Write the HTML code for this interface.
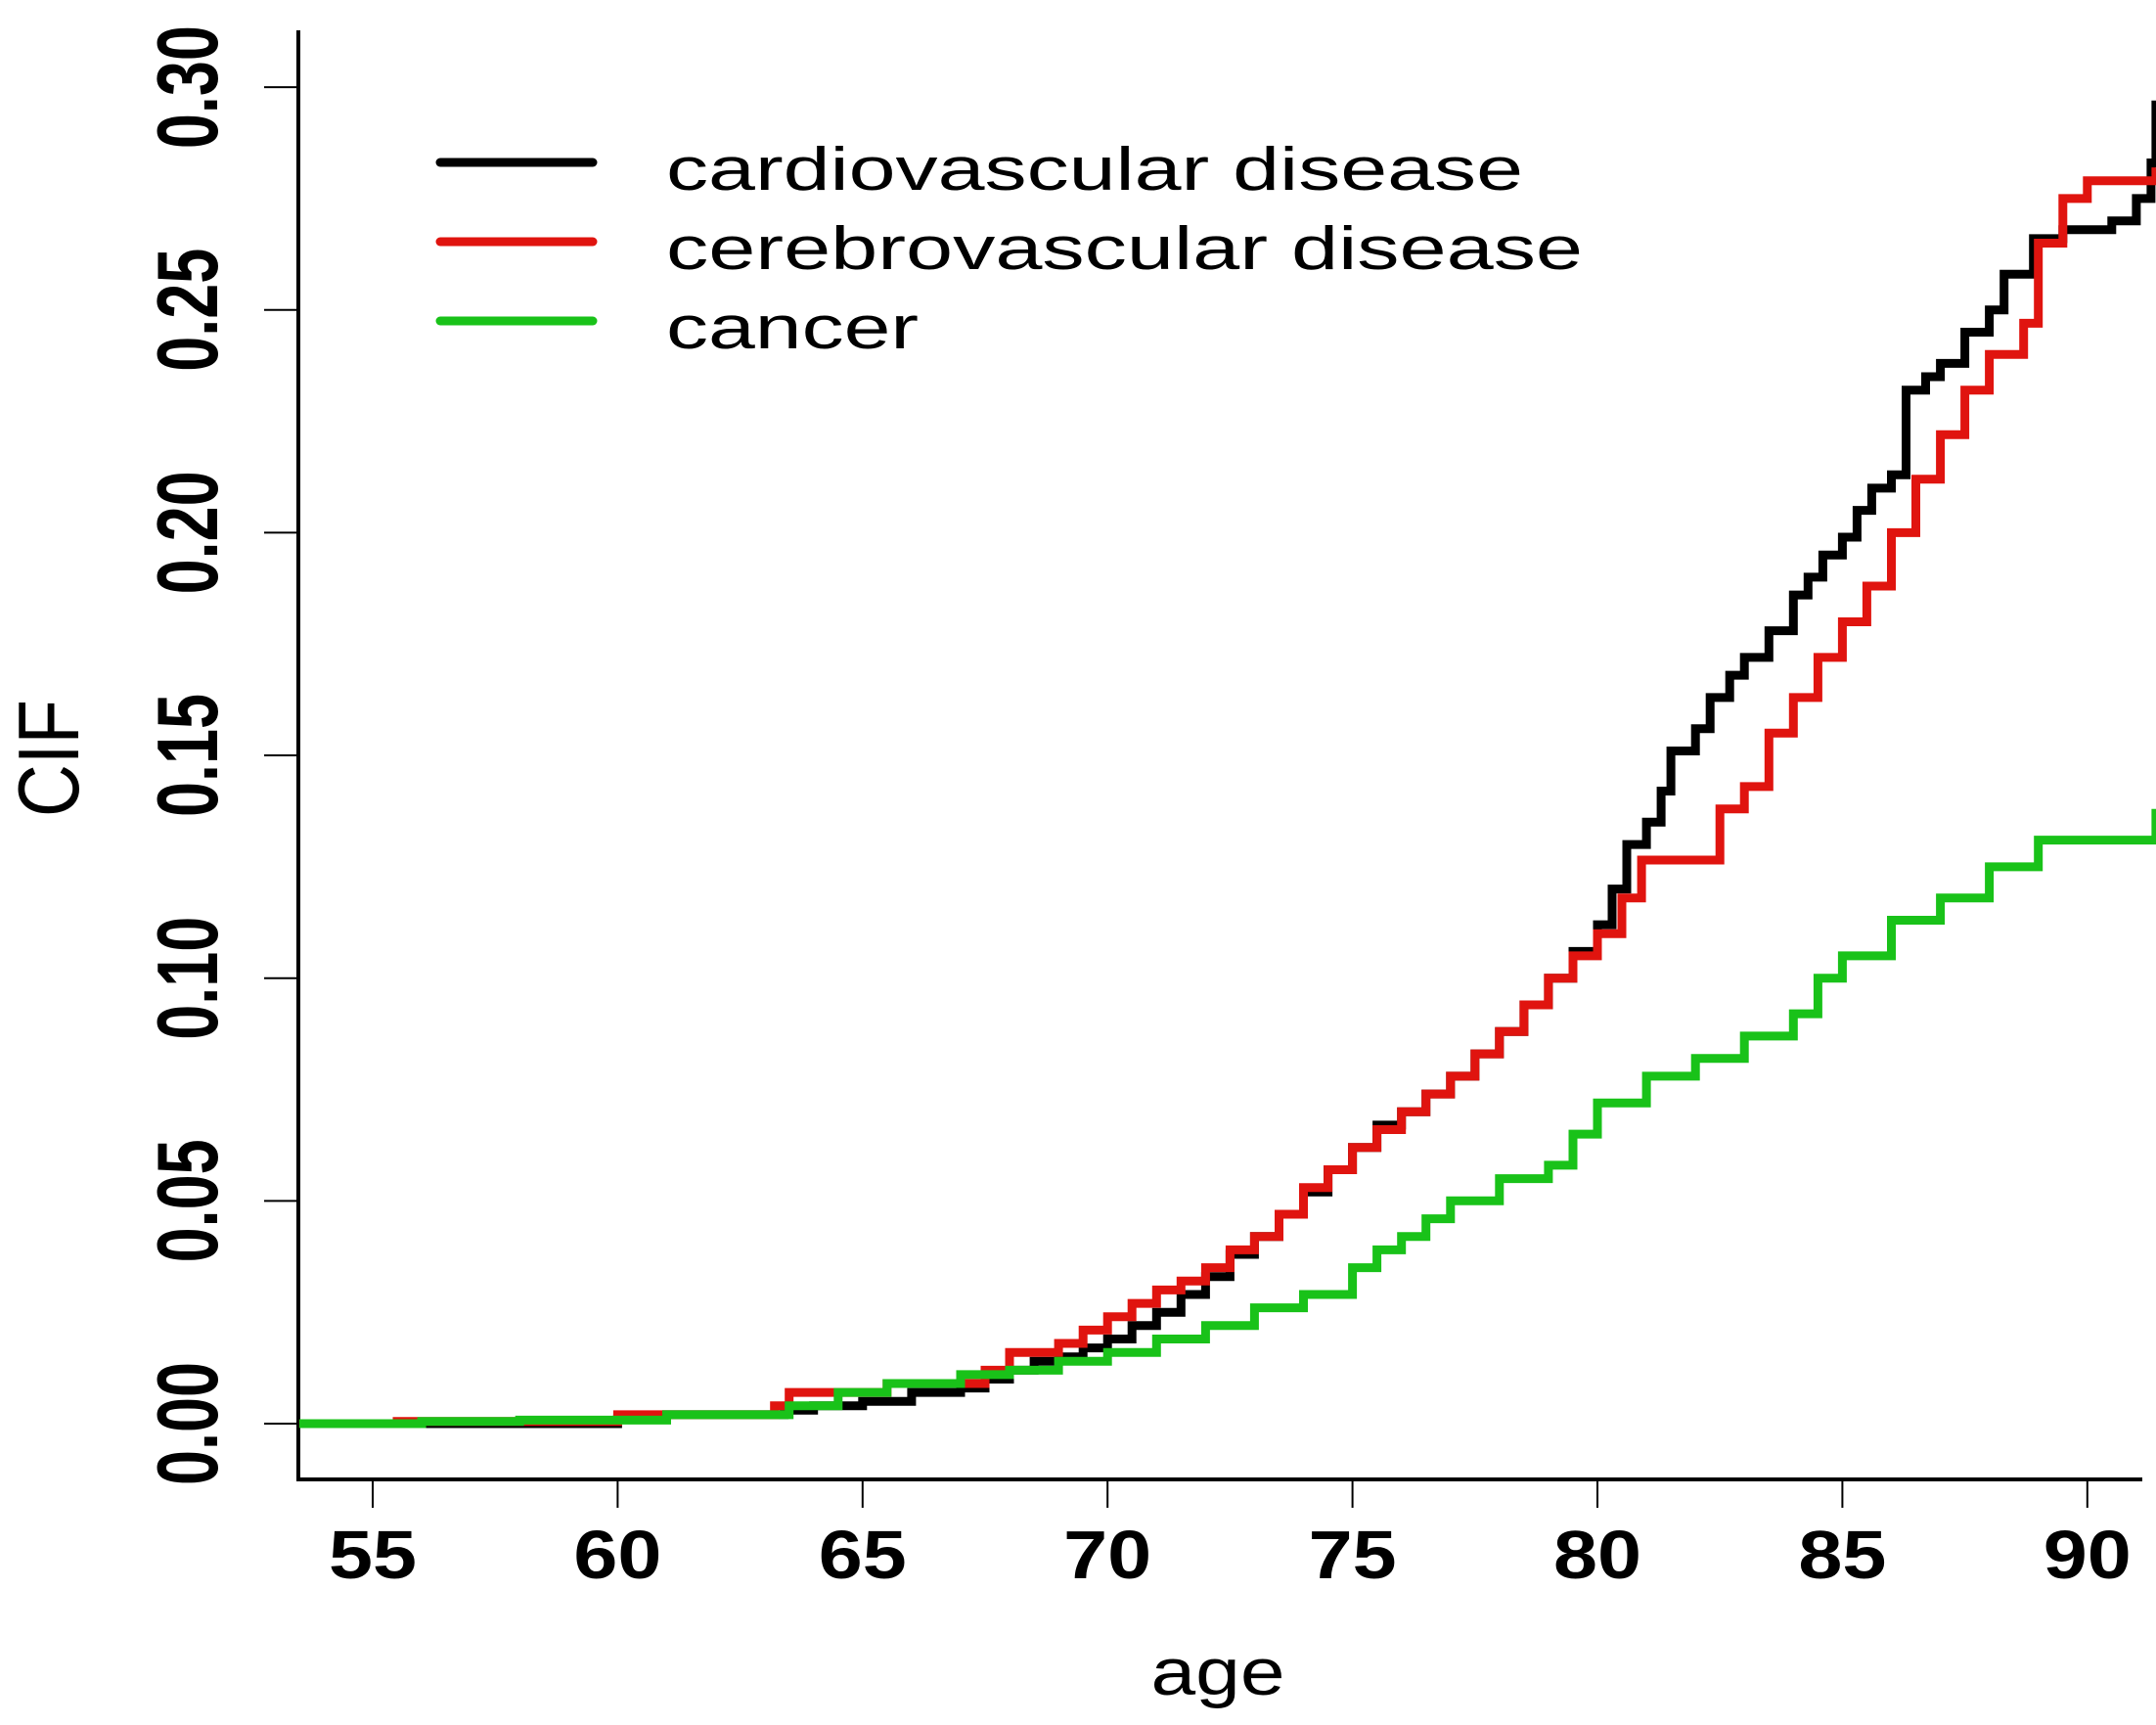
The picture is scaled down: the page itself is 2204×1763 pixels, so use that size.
<!DOCTYPE html>
<html><head><meta charset="utf-8"><style>
html,body{margin:0;padding:0;background:#fff;}
svg{display:block;}
text{font-family:"Liberation Sans",Arial,sans-serif;fill:#000;}
</style></head><body>
<svg id="chart" width="2204" height="1763" viewBox="0 0 2204 1763" xmlns="http://www.w3.org/2000/svg">
<g id="axes"></g>
<g id="series"></g>
<g id="legend"></g>
</svg>
<script>
const xTicks = [55,60,65,70,75,80,85,90];
const yTicks = [0,0.05,0.10,0.15,0.20,0.25,0.30];
const yTickLabels = ["0.00","0.05","0.10","0.15","0.20","0.25","0.30"];
const seriesNames = ["cardiovascular disease","cerebrovascular disease","cancer"];
const seriesColors = ["#000000","#e0140f","#19c219"];
const cardioAge = [53.5,60,61,63.4,64,65,66,67,67.5,68,68.5,69,69.5,70,70.5,71,71.5,72,72.5,73,73.5,74,74.5,75,75.5,76,76.5,77,77.5,78,78.5,79,79.5,80,80.3,80.6,81,81.3,81.5,82,82.3,82.7,83,83.5,84,84.3,84.6,85,85.3,85.6,86,86.3,86.7,87,87.5,88,88.3,88.9,89.5,90.5,91,91.3,91.4];
const cardioVal = [0,0.001,0.002,0.003,0.004,0.005,0.007,0.008,0.010,0.012,0.014,0.015,0.017,0.019,0.022,0.025,0.029,0.033,0.038,0.042,0.047,0.052,0.057,0.062,0.067,0.070,0.074,0.078,0.083,0.088,0.094,0.100,0.106,0.112,0.120,0.130,0.135,0.142,0.151,0.156,0.163,0.168,0.172,0.178,0.186,0.190,0.195,0.199,0.205,0.210,0.213,0.232,0.235,0.238,0.245,0.250,0.258,0.266,0.268,0.270,0.275,0.283,0.297];
const cerebroAge = [53.5,55.5,60,63.2,63.5,65.5,67.5,68,69,69.5,70,70.5,71,71.5,72,72.5,73,73.5,74,74.5,75,75.5,76,76.5,77,77.5,78,78.5,79,79.5,80,80.5,80.9,82.2,82.5,83,83.5,84,84.5,85,85.5,86,86.5,87,87.5,88,88.7,89,89.5,90,91.4];
const cerebroVal = [0,0.0005,0.002,0.004,0.007,0.009,0.012,0.016,0.018,0.021,0.024,0.027,0.030,0.032,0.035,0.039,0.042,0.047,0.053,0.057,0.062,0.066,0.070,0.074,0.078,0.083,0.088,0.094,0.100,0.105,0.110,0.118,0.1265,0.1265,0.138,0.143,0.155,0.163,0.172,0.180,0.188,0.200,0.212,0.222,0.232,0.240,0.247,0.265,0.275,0.279,0.282];
const cancerAge = [53.5,56,58,61,63.5,64.5,65.5,67,68,69,70,71,72,73,74,75,75.5,76,76.5,77,78,79,79.5,80,81,82,83,84,84.5,85,86,87,88,89,91.2,91.4];
const cancerVal = [0,0.0005,0.0008,0.002,0.004,0.007,0.009,0.011,0.012,0.014,0.016,0.019,0.022,0.026,0.029,0.035,0.039,0.042,0.046,0.050,0.055,0.058,0.065,0.072,0.078,0.082,0.087,0.092,0.100,0.105,0.113,0.118,0.125,0.131,0.131,0.138];

const NS = "http://www.w3.org/2000/svg";
function xs(a){ return 381 + (a-55)*50.08; }
function ys(v){ return 1455 - v*4553; }
function mk(tag, attrs, parent){ const e=document.createElementNS(NS,tag); for(const k in attrs) e.setAttribute(k,attrs[k]); parent.appendChild(e); return e; }

const axes = document.getElementById('axes');
let el;
el = mk('line',{x1:305,y1:31,x2:305,y2:1513,stroke:'#000','stroke-width':4},axes);


el = mk('line',{x1:303,y1:1512,x2:2190,y2:1512,stroke:'#000','stroke-width':4},axes);


xTicks.forEach((t)=>{
  const x=xs(t);
  const tk=mk('line',{x1:x,y1:1512,x2:x,y2:1541,stroke:'#000','stroke-width':2},axes);
  
  
  const lb=mk('text',{x:x,y:1613,'text-anchor':'middle','font-size':70,'font-weight':'bold',textLength:90,lengthAdjust:'spacingAndGlyphs'},axes);
  lb.textContent=String(t);
  
  
});
yTicks.forEach((t,i)=>{
  const y=ys(t);
  const tk=mk('line',{x1:270,y1:y,x2:305,y2:y,stroke:'#000','stroke-width':2},axes);
  
  
  const lb=mk('text',{x:0,y:0,transform:'translate(222,'+y+') rotate(-90)','text-anchor':'middle','font-size':88,'font-weight':'bold',textLength:126,lengthAdjust:'spacingAndGlyphs'},axes);
  lb.textContent=yTickLabels[i];
  
  
});
el = mk('text',{x:0,y:0,transform:'translate(80,775) rotate(-90)','text-anchor':'middle','font-size':88,textLength:120,lengthAdjust:'spacingAndGlyphs'},axes);
el.textContent='CIF';


el = mk('text',{x:1245,y:1732,'text-anchor':'middle','font-size':68,textLength:137,lengthAdjust:'spacingAndGlyphs'},axes);
el.textContent='age';



const series = document.getElementById('series');
const allAges=[cardioAge,cerebroAge,cancerAge];
const allVals=[cardioVal,cerebroVal,cancerVal];
const sNames=['cardiovascular-line','cerebrovascular-line','cancer-line'];
allAges.forEach((ages,s)=>{
  const vals=allVals[s];
  let d='M'+xs(ages[0]).toFixed(1)+','+ys(vals[0]).toFixed(1);
  for(let i=1;i<ages.length;i++){
    d+=' H'+xs(ages[i]).toFixed(1)+' V'+ys(vals[i]).toFixed(1);
  }
  const p=mk('path',{d:d,fill:'none',stroke:seriesColors[s],'stroke-width':9,'stroke-linejoin':'miter'},series);
  
  
});

const legend=document.getElementById('legend');
const lgY=[166,247,328];
const lgLen=[876,937,258];
seriesNames.forEach((n,i)=>{
  const ln=mk('line',{x1:450,y1:lgY[i],x2:606,y2:lgY[i],stroke:seriesColors[i],'stroke-width':9,'stroke-linecap':'round'},legend);
  
  
  const tx=mk('text',{x:681,y:lgY[i]+28,'font-size':62,textLength:lgLen[i],lengthAdjust:'spacingAndGlyphs'},legend);
  tx.textContent=n;
  
  
});
</script>
</body></html>
